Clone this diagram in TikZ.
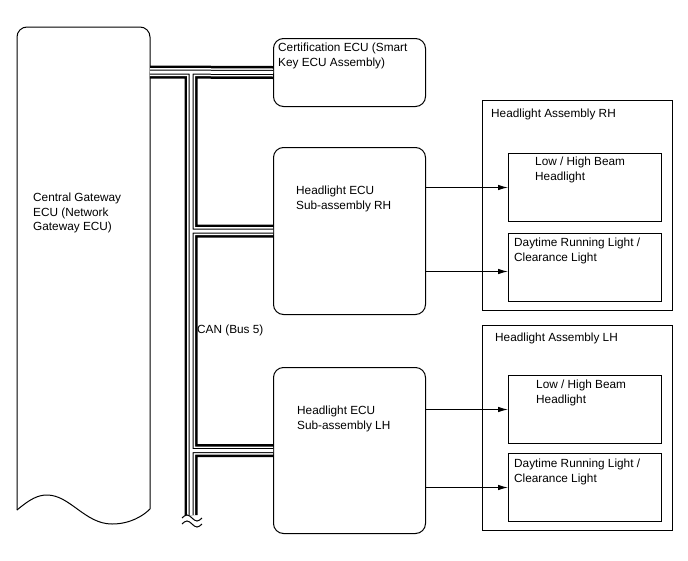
\documentclass[tikz,border=0pt]{standalone}
\usepackage{fontspec}
\setmainfont{Liberation Sans}
\usetikzlibrary{arrows.meta}

\tikzset{
  ecu/.style={draw, line width=1pt, rounded corners=10pt, anchor=north west, inner sep=0pt},
  part/.style={draw, line width=1pt, anchor=north west, inner sep=0pt},
  lbl/.style={anchor=north west, align=left, inner sep=0pt, font=\fontsize{11.8}{14.5}\selectfont},
  sig/.style={-{Latex[length=10pt,width=5.5pt]}, line width=1pt}
}

\begin{document}
\begin{tikzpicture}[x=1pt,y=-1pt]

\useasboundingbox (0,0) rectangle (688,560);

\draw[line width=1pt, rounded corners=10pt] (17,510) -- (17,27) -- (150,27) -- (150,509);
\draw[line width=1pt] (17,510) .. controls (30,499) and (38,495) .. (47,495)
  .. controls (70,495) and (85,524) .. (112,524) .. controls (130,524) and (143,516) .. (150,509);
\node[lbl] (gwtext) at (33,193) {Central Gateway\\ECU (Network\\Gateway ECU)};
\coordinate (gw) at (150,72);

\node[ecu, minimum width=152pt, minimum height=68pt] (cert) at (273,38) {};
\node[ecu, minimum width=152pt, minimum height=167pt] (hecurh) at (273,147) {};
\node[ecu, minimum width=152pt, minimum height=166pt] (heculh) at (273,367) {};

\node[lbl] at (278,43) {Certification ECU (Smart\\Key ECU Assembly)};
\node[lbl] at (296,186) {Headlight ECU\\Sub-assembly RH};
\node[lbl] at (297,406) {Headlight ECU\\Sub-assembly LH};

\node[part, minimum width=190pt, minimum height=210pt] (assyrh) at (482,100) {};
\node[part, minimum width=153pt, minimum height=68pt] (lowrh) at (508,153) {};
\node[part, minimum width=153pt, minimum height=68pt] (drlrh) at (508,233) {};
\node[lbl] at (491,109) {Headlight Assembly RH};
\node[lbl] at (535,157) {Low / High Beam\\Headlight};
\node[lbl] at (514,238) {Daytime Running Light /\\Clearance Light};

\node[part, minimum width=190pt, minimum height=205pt] (assylh) at (482,325) {};
\node[part, minimum width=153pt, minimum height=68pt] (lowlh) at (508,375) {};
\node[part, minimum width=153pt, minimum height=68pt] (drllh) at (508,453) {};
\node[lbl] at (495,333) {Headlight Assembly LH};
\node[lbl] at (536,380) {Low / High Beam\\Headlight};
\node[lbl] at (514,459) {Daytime Running Light /\\Clearance Light};

\draw[sig] (hecurh.east |- lowrh.west) -- (lowrh.west);
\draw[sig] ([yshift=-4pt]hecurh.east |- drlrh.west) -- ([yshift=-4pt]drlrh.west);
\draw[sig] (heculh.east |- lowlh.west) -- (lowlh.west);
\draw[sig] (heculh.east |- drllh.west) -- (drllh.west);

\coordinate (tjoin) at (191,72);
\coordinate (tend) at (191,515);
\foreach \w/\c in {13/black, 8/white, 5/black, 3/white}
  \draw[line width=\w pt, \c] (gw) -- (cert.west) (tjoin) -- (tend)
    (tjoin |- hecurh.west) -- (hecurh.west) (tjoin |- heculh.west) -- (heculh.west);

\foreach \dy in {0,6}
  \draw[line width=1pt] (182,518+\dy) sin (187,515+\dy) cos (192,518+\dy) sin (197,521+\dy) cos (202,518+\dy);

\node[lbl] (can) at (197,325) {CAN (Bus 5)};

\end{tikzpicture}
\end{document}
